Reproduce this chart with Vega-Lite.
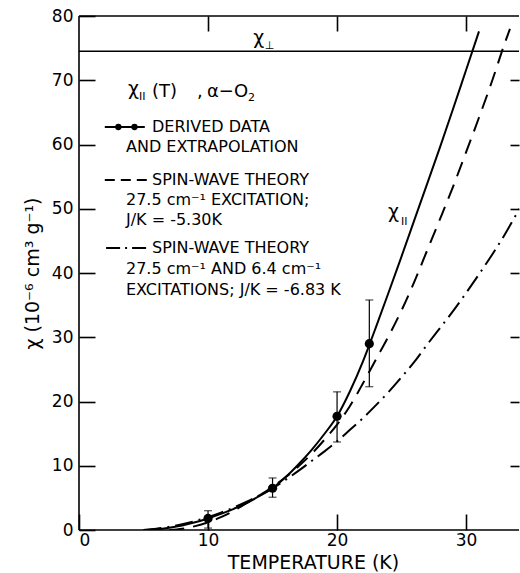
{
  "$schema": "https://vega.github.io/schema/vega-lite/v6.json",
  "autosize": "none",
  "width": 440,
  "height": 514,
  "padding": {"left": 79, "top": 16, "right": 1, "bottom": 43},
  "background": "white",
  "config": {
    "view": {"stroke": null},
    "font": "DejaVu Sans",
    "axis": {
      "domain": false, "tickColor": "black", "tickWidth": 1.6,
      "labelFont": "DejaVu Sans", "labelFontSize": 17, "labelColor": "black",
      "titleFont": "DejaVu Sans", "titleFontSize": 19, "titleFontWeight": "normal", "titleColor": "black",
      "grid": false
    },
    "text": {"font": "DejaVu Sans", "color": "black"}
  },
  "datasets": {
    "perp": [{"chi": 74.5}],
    "solid": [
      {"T": 5, "chi": 0}, {"T": 6, "chi": 0.1}, {"T": 7, "chi": 0.35}, {"T": 8, "chi": 0.7}, {"T": 9, "chi": 1.2},
      {"T": 10, "chi": 1.8}, {"T": 11, "chi": 2.5}, {"T": 12, "chi": 3.3}, {"T": 13, "chi": 4.2}, {"T": 14, "chi": 5.3},
      {"T": 15, "chi": 6.5}, {"T": 16, "chi": 8.2}, {"T": 17, "chi": 10.2}, {"T": 18, "chi": 12.4}, {"T": 19, "chi": 14.9},
      {"T": 20, "chi": 17.7}, {"T": 21, "chi": 21.6}, {"T": 22, "chi": 26.2}, {"T": 22.5, "chi": 28.8}, {"T": 23, "chi": 31.5},
      {"T": 24, "chi": 37}, {"T": 25, "chi": 42.6}, {"T": 26, "chi": 48.3}, {"T": 27, "chi": 54}, {"T": 28, "chi": 59.7},
      {"T": 29, "chi": 65.6}, {"T": 30, "chi": 71.6}, {"T": 31, "chi": 77.6}
    ],
    "dashed": [
      {"T": 7, "chi": 0}, {"T": 8, "chi": 0.2}, {"T": 9, "chi": 0.6}, {"T": 10, "chi": 1.2}, {"T": 11, "chi": 2.0},
      {"T": 12, "chi": 3.0}, {"T": 13, "chi": 4.2}, {"T": 14, "chi": 5.4}, {"T": 15, "chi": 6.7}, {"T": 16, "chi": 8.2},
      {"T": 17, "chi": 9.9}, {"T": 18, "chi": 11.8}, {"T": 19, "chi": 14.0}, {"T": 20, "chi": 16.4}, {"T": 21, "chi": 19.3},
      {"T": 22, "chi": 22.8}, {"T": 23, "chi": 26.5}, {"T": 24, "chi": 30.2}, {"T": 25, "chi": 34.2}, {"T": 26, "chi": 38.7},
      {"T": 27, "chi": 43.6}, {"T": 28, "chi": 48.5}, {"T": 29, "chi": 53.5}, {"T": 30, "chi": 58.8}, {"T": 31, "chi": 64.2},
      {"T": 32, "chi": 69.8}, {"T": 33, "chi": 75.8}, {"T": 33.4, "chi": 78}
    ],
    "dashdot": [
      {"T": 5, "chi": 0}, {"T": 6, "chi": 0.2}, {"T": 7, "chi": 0.5}, {"T": 8, "chi": 0.9}, {"T": 9, "chi": 1.4},
      {"T": 10, "chi": 2.0}, {"T": 11, "chi": 2.7}, {"T": 12, "chi": 3.5}, {"T": 13, "chi": 4.4}, {"T": 14, "chi": 5.4},
      {"T": 15, "chi": 6.5}, {"T": 16, "chi": 7.8}, {"T": 17, "chi": 9.2}, {"T": 18, "chi": 10.7}, {"T": 19, "chi": 12.2},
      {"T": 20, "chi": 13.8}, {"T": 21, "chi": 15.6}, {"T": 22, "chi": 17.4}, {"T": 23, "chi": 19.4}, {"T": 24, "chi": 21.5},
      {"T": 25, "chi": 23.8}, {"T": 26, "chi": 26.2}, {"T": 27, "chi": 28.9}, {"T": 28, "chi": 31.5}, {"T": 29, "chi": 34.1},
      {"T": 30, "chi": 36.9}, {"T": 31, "chi": 39.8}, {"T": 32, "chi": 42.8}, {"T": 33, "chi": 46.0}, {"T": 34, "chi": 49.5},
      {"T": 34.6, "chi": 51.6}
    ],
    "points": [
      {"T": 10, "chi": 1.8, "lo": 0.3, "hi": 3.0},
      {"T": 15, "chi": 6.5, "lo": 5.1, "hi": 8.1},
      {"T": 20, "chi": 17.7, "lo": 13.7, "hi": 21.5},
      {"T": 22.5, "chi": 29, "lo": 22.3, "hi": 35.8}
    ],
    "legSolid": [{"T": 2.0, "chi": 62.72}, {"T": 5.1, "chi": 62.72}],
    "legDots": [{"T": 3.05, "chi": 62.72}, {"T": 4.3, "chi": 62.72}],
    "legDashed": [{"T": 2.0, "chi": 54.47}, {"T": 5.35, "chi": 54.47}],
    "legDashdot": [{"T": 2.1, "chi": 43.89}, {"T": 5.4, "chi": 43.89}],
    "labels": [
      {"T": 5.66, "chi": 62.72, "text": "DERIVED DATA"},
      {"T": 3.64, "chi": 59.6, "text": "AND EXTRAPOLATION"},
      {"T": 5.66, "chi": 54.47, "text": "SPIN-WAVE THEORY"},
      {"T": 3.64, "chi": 51.36, "text": "27.5 cm⁻¹ EXCITATION;"},
      {"T": 3.64, "chi": 48.25, "text": "J/K = -5.30K"},
      {"T": 5.66, "chi": 43.89, "text": "SPIN-WAVE THEORY"},
      {"T": 3.64, "chi": 40.62, "text": "27.5 cm⁻¹ AND 6.4 cm⁻¹"},
      {"T": 3.64, "chi": 37.35, "text": "EXCITATIONS; J/K = -6.83 K"}
    ],
    "heads": [
      {"T": 5.66, "chi": 67.39, "text": "(T)"},
      {"T": 9.15, "chi": 67.39, "text": ","},
      {"T": 9.92, "chi": 67.39, "text": "α−O"}
    ],
    "syms": [
      {"T": 3.80, "chi": 67.70, "text": "χ"},
      {"T": 13.5, "chi": 75.6, "text": "χ"},
      {"T": 23.95, "chi": 48.56, "text": "χ"}
    ],
    "subs": [
      {"T": 4.65, "chi": 66.93, "text": "II"},
      {"T": 13.1, "chi": 66.77, "text": "2"},
      {"T": 14.4, "chi": 74.8, "text": "⊥"},
      {"T": 24.96, "chi": 47.47, "text": "II"}
    ]
  },
  "resolve": {"axis": {"x": "independent", "y": "independent"}},
  "layer": [
    {
      "data": {"values": [{}]},
      "mark": {"type": "rule", "color": "black", "strokeWidth": 1.6},
      "encoding": {
        "x": {"datum": 0, "type": "quantitative",
          "scale": {"domain": [0, 34.1], "nice": false, "zero": false},
          "axis": {"orient": "bottom", "offset": -16, "values": [0, 10, 20, 30], "tickSize": 16, "labelPadding": 2, "title": "TEMPERATURE (K)", "titlePadding": 5, "titleX": 234}},
        "x2": {"datum": 34.1},
        "y": {"datum": 80, "type": "quantitative",
          "scale": {"domain": [0, 80], "nice": false, "zero": false},
          "axis": {"orient": "left", "offset": -16, "values": [0, 10, 20, 30, 40, 50, 60, 70, 80], "tickSize": 16, "labelPadding": 6, "title": "χ (10⁻⁶ cm³ g⁻¹)", "titlePadding": 9}}
      }
    },
    {
      "data": {"values": [{}]},
      "mark": {"type": "rule", "color": "black", "strokeWidth": 1.6},
      "encoding": {
        "x": {"datum": 0, "type": "quantitative",
          "axis": {"orient": "top", "offset": -15, "values": [10, 20, 30], "tickSize": 15, "labels": false, "title": null}},
        "y": {"datum": 0, "type": "quantitative",
          "axis": {"orient": "right", "offset": -9, "values": [10, 20, 30, 40, 50, 60, 70], "tickSize": 9, "labels": false, "title": null}},
        "y2": {"datum": 80}
      }
    },
    {
      "data": {"values": [{}]},
      "mark": {"type": "rule", "color": "black", "strokeWidth": 1.6},
      "encoding": {
        "x": {"datum": 0, "type": "quantitative", "axis": null},
        "x2": {"datum": 34.1},
        "y": {"datum": 0, "type": "quantitative", "axis": null}
      }
    },
    {
      "data": {"name": "perp"},
      "mark": {"type": "rule", "color": "black", "strokeWidth": 1.5},
      "encoding": {
        "x": {"datum": 0, "type": "quantitative", "axis": null},
        "x2": {"datum": 34.1},
        "y": {"field": "chi", "type": "quantitative", "axis": null}
      }
    },
    {
      "data": {"name": "solid"},
      "mark": {"type": "line", "color": "black", "strokeWidth": 2, "clip": true, "interpolate": "monotone"},
      "encoding": {
        "x": {"field": "T", "type": "quantitative", "axis": null},
        "y": {"field": "chi", "type": "quantitative", "axis": null}
      }
    },
    {
      "data": {"name": "dashed"},
      "mark": {"type": "line", "color": "black", "strokeWidth": 2, "strokeDash": [15, 9], "clip": true, "interpolate": "monotone"},
      "encoding": {
        "x": {"field": "T", "type": "quantitative", "axis": null},
        "y": {"field": "chi", "type": "quantitative", "axis": null}
      }
    },
    {
      "data": {"name": "dashdot"},
      "mark": {"type": "line", "color": "black", "strokeWidth": 2, "strokeDash": [18, 6, 2, 6], "clip": true, "interpolate": "monotone"},
      "encoding": {
        "x": {"field": "T", "type": "quantitative", "axis": null},
        "y": {"field": "chi", "type": "quantitative", "axis": null}
      }
    },
    {
      "data": {"name": "points"},
      "mark": {"type": "rule", "color": "black", "strokeWidth": 1.2},
      "encoding": {
        "x": {"field": "T", "type": "quantitative", "axis": null},
        "y": {"field": "lo", "type": "quantitative", "axis": null},
        "y2": {"field": "hi"}
      }
    },
    {
      "data": {"name": "points"},
      "mark": {"type": "tick", "color": "black", "orient": "horizontal", "size": 8, "thickness": 1.2},
      "encoding": {
        "x": {"field": "T", "type": "quantitative", "axis": null},
        "y": {"field": "lo", "type": "quantitative", "axis": null}
      }
    },
    {
      "data": {"name": "points"},
      "mark": {"type": "tick", "color": "black", "orient": "horizontal", "size": 8, "thickness": 1.2},
      "encoding": {
        "x": {"field": "T", "type": "quantitative", "axis": null},
        "y": {"field": "hi", "type": "quantitative", "axis": null}
      }
    },
    {
      "data": {"name": "points"},
      "mark": {"type": "point", "filled": true, "color": "black", "opacity": 1, "size": 85},
      "encoding": {
        "x": {"field": "T", "type": "quantitative", "axis": null},
        "y": {"field": "chi", "type": "quantitative", "axis": null}
      }
    },
    {
      "data": {"name": "legSolid"},
      "mark": {"type": "line", "color": "black", "strokeWidth": 2},
      "encoding": {
        "x": {"field": "T", "type": "quantitative", "axis": null},
        "y": {"field": "chi", "type": "quantitative", "axis": null}
      }
    },
    {
      "data": {"name": "legDots"},
      "mark": {"type": "point", "filled": true, "color": "black", "opacity": 1, "size": 40},
      "encoding": {
        "x": {"field": "T", "type": "quantitative", "axis": null},
        "y": {"field": "chi", "type": "quantitative", "axis": null}
      }
    },
    {
      "data": {"name": "legDashed"},
      "mark": {"type": "line", "color": "black", "strokeWidth": 2, "strokeDash": [10, 6]},
      "encoding": {
        "x": {"field": "T", "type": "quantitative", "axis": null},
        "y": {"field": "chi", "type": "quantitative", "axis": null}
      }
    },
    {
      "data": {"name": "legDashdot"},
      "mark": {"type": "line", "color": "black", "strokeWidth": 2, "strokeDash": [14, 5, 2, 5]},
      "encoding": {
        "x": {"field": "T", "type": "quantitative", "axis": null},
        "y": {"field": "chi", "type": "quantitative", "axis": null}
      }
    },
    {
      "data": {"name": "labels"},
      "mark": {"type": "text", "align": "left", "baseline": "middle", "fontSize": 16},
      "encoding": {
        "x": {"field": "T", "type": "quantitative", "axis": null},
        "y": {"field": "chi", "type": "quantitative", "axis": null},
        "text": {"field": "text"}
      }
    },
    {
      "data": {"name": "heads"},
      "mark": {"type": "text", "align": "left", "baseline": "alphabetic", "fontSize": 18},
      "encoding": {
        "x": {"field": "T", "type": "quantitative", "axis": null},
        "y": {"field": "chi", "type": "quantitative", "axis": null},
        "text": {"field": "text"}
      }
    },
    {
      "data": {"name": "syms"},
      "mark": {"type": "text", "align": "left", "baseline": "alphabetic", "fontSize": 19},
      "encoding": {
        "x": {"field": "T", "type": "quantitative", "axis": null},
        "y": {"field": "chi", "type": "quantitative", "axis": null},
        "text": {"field": "text"}
      }
    },
    {
      "data": {"name": "subs"},
      "mark": {"type": "text", "align": "left", "baseline": "alphabetic", "fontSize": 11},
      "encoding": {
        "x": {"field": "T", "type": "quantitative", "axis": null},
        "y": {"field": "chi", "type": "quantitative", "axis": null},
        "text": {"field": "text"}
      }
    }
  ]
}
